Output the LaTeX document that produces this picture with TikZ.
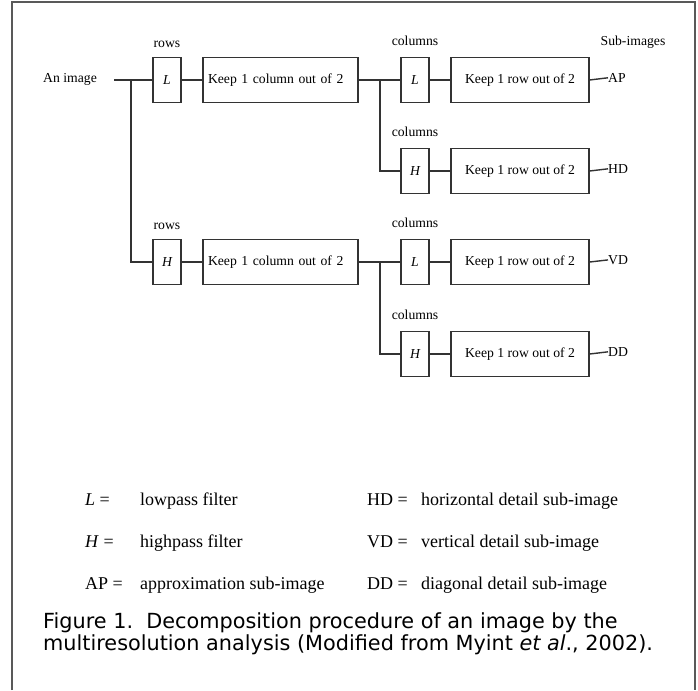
\documentclass[tikz,border=0pt]{standalone}
\usepackage{fontspec}
\setmainfont{Liberation Serif}
\newfontfamily\capfont{DejaVu Sans}
\begin{document}
\begin{tikzpicture}[x=1pt,y=-1pt,
  conn/.style={line width=1.4pt, draw=black!80},
  filt/.style={draw=black!80, line width=1.4pt, minimum width=28pt, minimum height=45pt, inner sep=0pt, font=\fontsize{13.7}{16}\selectfont\itshape},
  colbox/.style={draw=black!80, line width=1.4pt, minimum height=45pt, text width=145pt, inner xsep=5pt, inner ysep=0pt, align=left, font=\fontsize{13.7}{16}\selectfont},
  rowbox/.style={draw=black!80, line width=1.4pt, minimum height=45pt, minimum width=138pt, inner sep=0pt, font=\fontsize{13.7}{16}\selectfont},
  lbl/.style={inner sep=0pt, font=\fontsize{13.7}{16}\selectfont},
  leg/.style={inner sep=0pt, anchor=mid west, font=\fontsize{18}{21}\selectfont},
  capt/.style={inner sep=0pt, anchor=mid west, font=\capfont\fontsize{20.8}{24}\selectfont}]
\useasboundingbox (0,0) rectangle (698,690);
\draw[line width=2pt, black!65] (12,690) -- (12,2) -- (695,2) -- (695,690);
% input
\node[lbl, anchor=mid west] (img) at (43,80) {An image};
\coordinate (start) at (114,80);
\coordinate (j1) at (131,80);
% first stage
\node[lbl, anchor=mid] (rows1) at (167,45) {rows};
\node[filt] (Lr) at (167,80) {L};
\node[colbox] (K1) at (280.5,80) {Keep 1 column out of 2};
\node[lbl, anchor=mid] (rows2) at (167,227) {rows};
\node[filt] (Hr) at (167,262) {H};
\node[colbox] (K4) at (280.5,262) {Keep 1 column out of 2};
% second stage, top branch
\coordinate (j2) at (380,80);
\node[lbl, anchor=mid] (c1) at (415,43) {columns};
\node[filt] (Lc1) at (415,80) {L};
\node[rowbox] (K2) at (520,80) {Keep 1 row out of 2};
\node[lbl, anchor=mid west] (AP) at (608,80) {AP};
\node[lbl, anchor=mid] (sub) at (633,43) {Sub-images};
\node[lbl, anchor=mid] (c2) at (415,134) {columns};
\node[filt] (Hc1) at (415,171) {H};
\node[rowbox] (K3) at (520,171) {Keep 1 row out of 2};
\node[lbl, anchor=mid west] (HD) at (608,171) {HD};
% second stage, bottom branch
\coordinate (j3) at (380,262);
\node[lbl, anchor=mid] (c3) at (415,225) {columns};
\node[filt] (Lc2) at (415,262) {L};
\node[rowbox] (K5) at (520,262) {Keep 1 row out of 2};
\node[lbl, anchor=mid west] (VD) at (608,262) {VD};
\node[lbl, anchor=mid] (c4) at (415,317) {columns};
\node[filt] (Hc2) at (415,354) {H};
\node[rowbox] (K6) at (520,354) {Keep 1 row out of 2};
\node[lbl, anchor=mid west] (DD) at (608,354) {DD};
% connectors
\draw[conn] (start) -- (Lr.west);
\draw[conn] (j1) |- (Hr.west);
\draw[conn] (Lr.east) -- (K1.west);
\draw[conn] (Hr.east) -- (K4.west);
\draw[conn] (K1.east) -- (Lc1.west);
\draw[conn] (j2) |- (Hc1.west);
\draw[conn] (K4.east) -- (Lc2.west);
\draw[conn] (j3) |- (Hc2.west);
\draw[conn] (Lc1.east) -- (K2.west);
\draw[conn] (Hc1.east) -- (K3.west);
\draw[conn] (Lc2.east) -- (K5.west);
\draw[conn] (Hc2.east) -- (K6.west);
\draw[conn] (K2.east) -- (AP.west);
\draw[conn] (K3.east) -- (HD.west);
\draw[conn] (K5.east) -- (VD.west);
\draw[conn] (K6.east) -- (DD.west);
% legend
\node[leg] (lL) at (85,503) {\textit{L} =};
\node[leg] (dL) at (140,503) {lowpass filter};
\node[leg] (lH) at (85,545) {\textit{H} =};
\node[leg] (dH) at (140,545) {highpass filter};
\node[leg] (lAP) at (85,587) {AP =};
\node[leg] (dAP) at (140,587) {approximation sub-image};
\node[leg] (lHD) at (367,503) {HD =};
\node[leg] (dHD) at (421,503) {horizontal detail sub-image};
\node[leg] (lVD) at (367,545) {VD =};
\node[leg] (dVD) at (421,545) {vertical detail sub-image};
\node[leg] (lDD) at (367,587) {DD =};
\node[leg] (dDD) at (421,587) {diagonal detail sub-image};
% caption
\node[capt] (cap1) at (43,626) {Figure 1.\ \ Decomposition procedure of an image by the};
\node[capt] (cap2) at (43,648) {multiresolution analysis (Modified from Myint \textit{et al}., 2002).};
\end{tikzpicture}
\end{document}
